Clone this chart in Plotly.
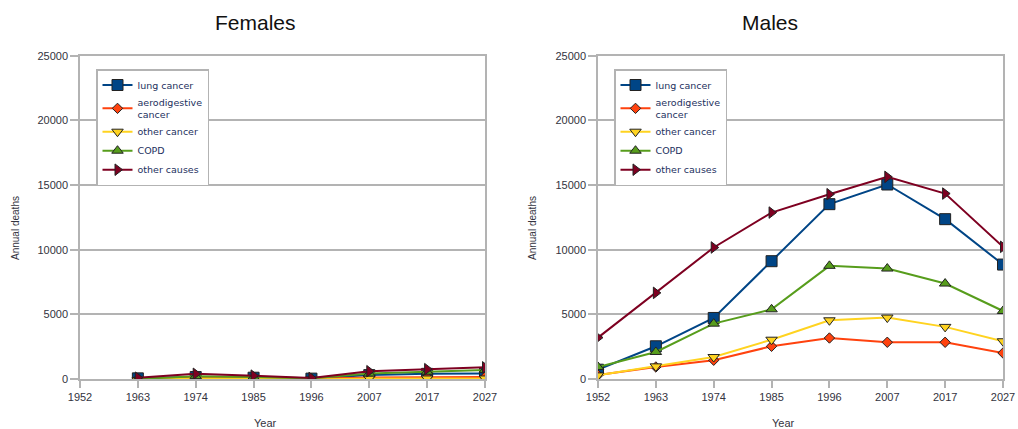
import plotly.graph_objects as go

years = ["1952", "1963", "1974", "1985", "1996", "2007", "2017", "2027"]
series_names = ["lung cancer", "aerodigestive<br>cancer", "other cancer", "COPD", "other causes"]

# Females: no 1952 value
f_lung = [None, 50, 150, 100, 30, 300, 400, 420]
f_aero = [None, 20, 80, 60, 20, 120, 150, 160]
f_other_cancer = [None, -80, 30, 20, -30, 40, 40, 40]
f_copd = [None, 0, 220, 160, 50, 420, 560, 700]
f_other_causes = [None, 100, 400, 260, 80, 600, 760, 900]

# Males
m_lung = [720, 2530, 4720, 9110, 13520, 15040, 12360, 8850]
m_aero = [300, 930, 1450, 2530, 3170, 2840, 2840, 2010]
m_other_cancer = [280, 980, 1700, 3040, 4540, 4750, 4030, 2920]
m_copd = [930, 2090, 4280, 5390, 8750, 8540, 7380, 5260]
m_other_causes = [3200, 6660, 10170, 12870, 14290, 15630, 14340, 10220]

colors = ["#004586", "#ff420e", "#ffd320", "#579d1c", "#7e0021"]
symbols = ["square", "diamond", "triangle-down", "triangle-up", "triangle-right"]
sizes = [11, 8, 10, 10, 10]

FONT = "Liberation Sans, Arial, sans-serif"
LEGFONT = "DejaVu Sans, sans-serif"
GRID = "#b3b3b3"
TXT = "#333340"

fig = go.Figure()
idx = list(range(len(years)))

panels = [
    ("x", "y", "legend", [f_lung, f_aero, f_other_cancer, f_copd, f_other_causes]),
    ("x2", "y2", "legend2", [m_lung, m_aero, m_other_cancer, m_copd, m_other_causes]),
]
for xa, ya, leg, data in panels:
    for name, vals, c, s, sz in zip(series_names, data, colors, symbols, sizes):
        fig.add_trace(go.Scatter(
            x=idx, y=vals, name=name, mode="lines+markers",
            xaxis=xa, yaxis=ya, legend=leg,
            line=dict(color=c, width=2),
            marker=dict(symbol=s, size=sz, color=c, line=dict(color="#222222", width=1)),
        ))

xcommon = dict(
    range=[0, 7], tickmode="array", tickvals=idx, ticktext=years, automargin=False,
    showgrid=False, zeroline=False, showline=True, linecolor=GRID, linewidth=1.5,
    mirror=True, ticks="outside", ticklen=7, tickcolor=GRID, tickwidth=1.5,
    tickfont=dict(family=FONT, size=11, color=TXT),
)
ycommon = dict(
    range=[0, 25000], dtick=5000, tickformat="d", automargin=False,
    showgrid=True, gridcolor=GRID, gridwidth=1.5,
    zeroline=False, showline=True, linecolor=GRID, linewidth=1.5, mirror=True,
    ticks="outside", ticklen=8, tickcolor=GRID, tickwidth=1.5,
    tickfont=dict(family=FONT, size=11, color=TXT),
)

W, H = 1018, 429
ybot, ytop = 1 - 379 / H, 1 - 55.7 / H
legcommon = dict(
    bgcolor="white", bordercolor=GRID, borderwidth=1.5,
    font=dict(family=LEGFONT, size=9.5, color="#23305e"),
    xanchor="left", yanchor="top", tracegroupgap=0, itemwidth=30,
)

def label(text, x, y, size, angle=0, color=TXT):
    return dict(text=text, x=x / W, y=1 - y / H, xref="paper", yref="paper",
                xanchor="center", yanchor="middle",
                showarrow=False, textangle=angle,
                font=dict(family=FONT, size=size, color=color))

fig.update_layout(
    width=W, height=H, margin=dict(l=0, r=0, t=0, b=0, autoexpand=False),
    paper_bgcolor="white", plot_bgcolor="white",
    xaxis=dict(domain=[80 / W, 485 / W], anchor="y", **xcommon),
    yaxis=dict(domain=[ybot, ytop], anchor="x", **ycommon),
    xaxis2=dict(domain=[598 / W, 1003 / W], anchor="y2", **xcommon),
    yaxis2=dict(domain=[ybot, ytop], anchor="x2", **ycommon),
    legend=dict(x=96 / W, y=1 - 69 / H, **legcommon),
    legend2=dict(x=614 / W, y=1 - 69 / H, **legcommon),
    annotations=[
        label("Females", 255, 22, 21, color="#111111"),
        label("Males", 770, 22, 21, color="#111111"),
        label("Annual deaths", 15, 228, 10, angle=-90),
        label("Annual deaths", 532, 228, 10, angle=-90),
        label("Year", 265, 423, 11),
        label("Year", 783, 423, 11),
    ],
)

fig.write_html("out.html")
